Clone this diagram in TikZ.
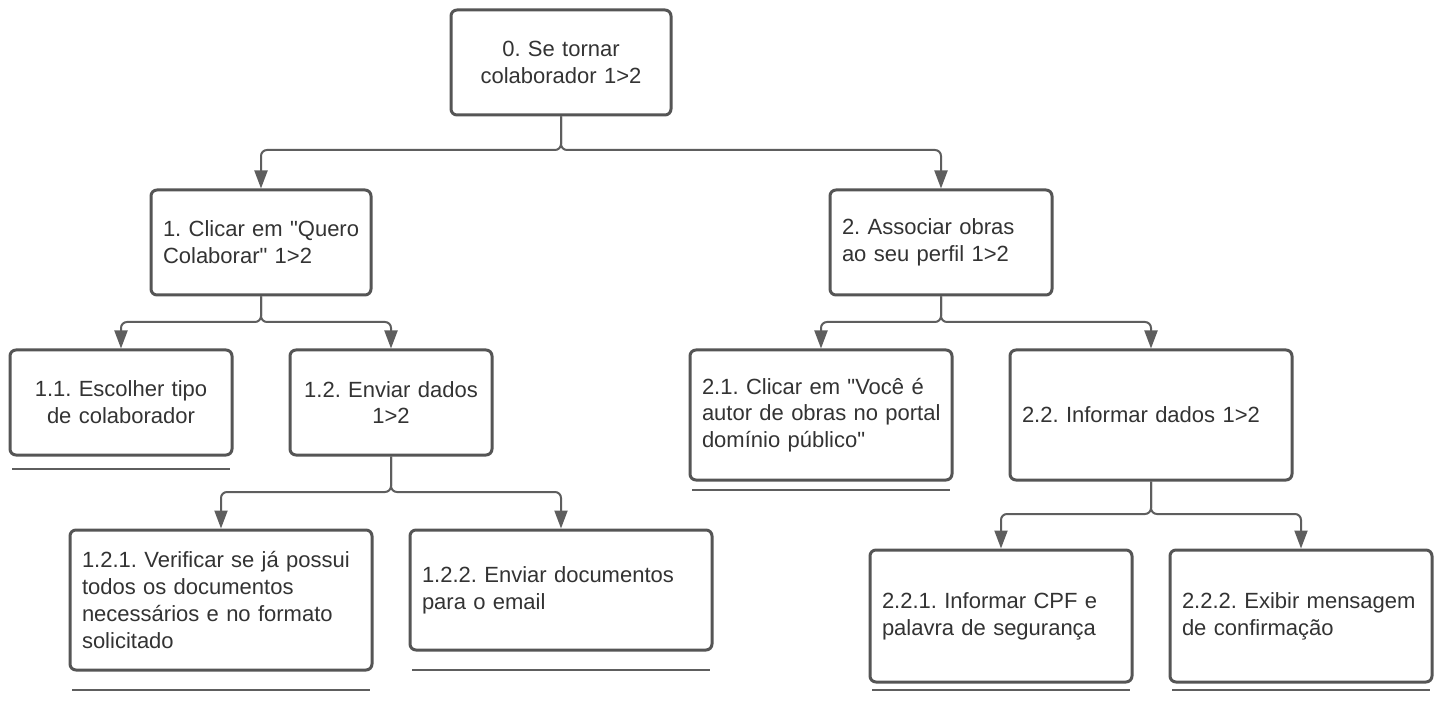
\documentclass[tikz,border=0pt]{standalone}
\usepackage{fontspec}
\setmainfont{Liberation Sans}[Ligatures=TeXOff]
\frenchspacing
\usetikzlibrary{arrows.meta}
\definecolor{bordercol}{HTML}{555555}
\definecolor{linecol}{HTML}{5E5E5E}
\definecolor{textcol}{HTML}{333333}
\tikzset{
  box/.style={draw=bordercol, line width=3pt, rounded corners=6pt, fill=white,
    inner xsep=12pt, inner ysep=4pt, text=textcol,
    font=\fontsize{22}{26.8}\selectfont},
  lbox/.style={box, align=left},
  cbox/.style={box, align=center},
  conn/.style={draw=linecol, line width=2pt, rounded corners=6pt,
    -{Triangle[length=18pt,width=13pt]}},
  uline/.style={draw=linecol, line width=2.5pt}
}
\begin{document}
\begin{tikzpicture}[x=1pt,y=-1pt]
\useasboundingbox[fill=white] (0,0) rectangle (1441,703);

\node[cbox, minimum width=220pt, minimum height=105pt, text width=196pt] (b0) at (561,62.5) {0. Se tornar\\\mbox{colaborador 1>2}};
\node[lbox, minimum width=220pt, minimum height=105pt, text width=196pt] (b1) at (261,242.5) {\mbox{1. Clicar em "Quero}\\\mbox{Colaborar" 1>2}};
\node[lbox, minimum width=222pt, minimum height=105pt, text width=198pt] (b2) at (941,242.5) {\mbox{2. Associar obras}\\\mbox{ao seu perfil 1>2}};

\node[cbox, minimum width=222pt, minimum height=105pt, text width=198pt] (b11) at (121,402.5) {\mbox{1.1. Escolher tipo}\\de colaborador};
\node[cbox, minimum width=202pt, minimum height=105pt, text width=178pt] (b12) at (391,402.5) {\mbox{1.2. Enviar dados}\\1>2};
\node[lbox, minimum width=302pt, minimum height=140pt, text width=278pt] (b121) at (221,600) {\mbox{1.2.1. Verificar se já possui}\\todos os documentos\\\mbox{necessários e no formato}\\solicitado};
\node[lbox, minimum width=302pt, minimum height=120pt, text width=278pt] (b122) at (561,590) {\mbox{1.2.2. Enviar documentos}\\para o email};

\node[lbox, minimum width=262pt, minimum height=130pt, text width=238pt] (b21) at (821,415) {\mbox{2.1. Clicar em "Você é}\\\mbox{autor de obras no portal}\\\mbox{domínio público"}};
\node[lbox, minimum width=282pt, minimum height=130pt, text width=258pt] (b22) at (1151,415) {\mbox{2.2. Informar dados 1>2}};
\node[lbox, minimum width=262pt, minimum height=132pt, text width=238pt] (b221) at (1001,616) {\mbox{2.2.1. Informar CPF e}\\\mbox{palavra de segurança}};
\node[lbox, minimum width=262pt, minimum height=132pt, text width=238pt] (b222) at (1301,616) {\mbox{2.2.2. Exibir mensagem}\\de confirmação};

% connectors
\coordinate (j0) at (561,150);
\coordinate (j1) at (261,322);
\coordinate (j12) at (391,492);
\coordinate (j2) at (941,322);
\coordinate (j22) at (1151,514);

\draw[conn] (b0.south) -- (j0) -| (b1.north);
\draw[conn] (b0.south) -- (j0) -| (b2.north);
\draw[conn] (b1.south) -- (j1) -| (b11.north);
\draw[conn] (b1.south) -- (j1) -| (b12.north);
\draw[conn] (b12.south) -- (j12) -| (b121.north);
\draw[conn] (b12.south) -- (j12) -| (b122.north);
\draw[conn] (b2.south) -- (j2) -| (b21.north);
\draw[conn] (b2.south) -- (j2) -| (b22.north);
\draw[conn] (b22.south) -- (j22) -| (b221.north);
\draw[conn] (b22.south) -- (j22) -| (b222.north);

% underlines
\draw[uline] (12,469) -- (230,469);
\draw[uline] (72,690) -- (370,690);
\draw[uline] (412,670) -- (710,670);
\draw[uline] (692,490) -- (950,490);
\draw[uline] (872,690) -- (1130,690);
\draw[uline] (1172,690) -- (1430,690);
\end{tikzpicture}
\end{document}
